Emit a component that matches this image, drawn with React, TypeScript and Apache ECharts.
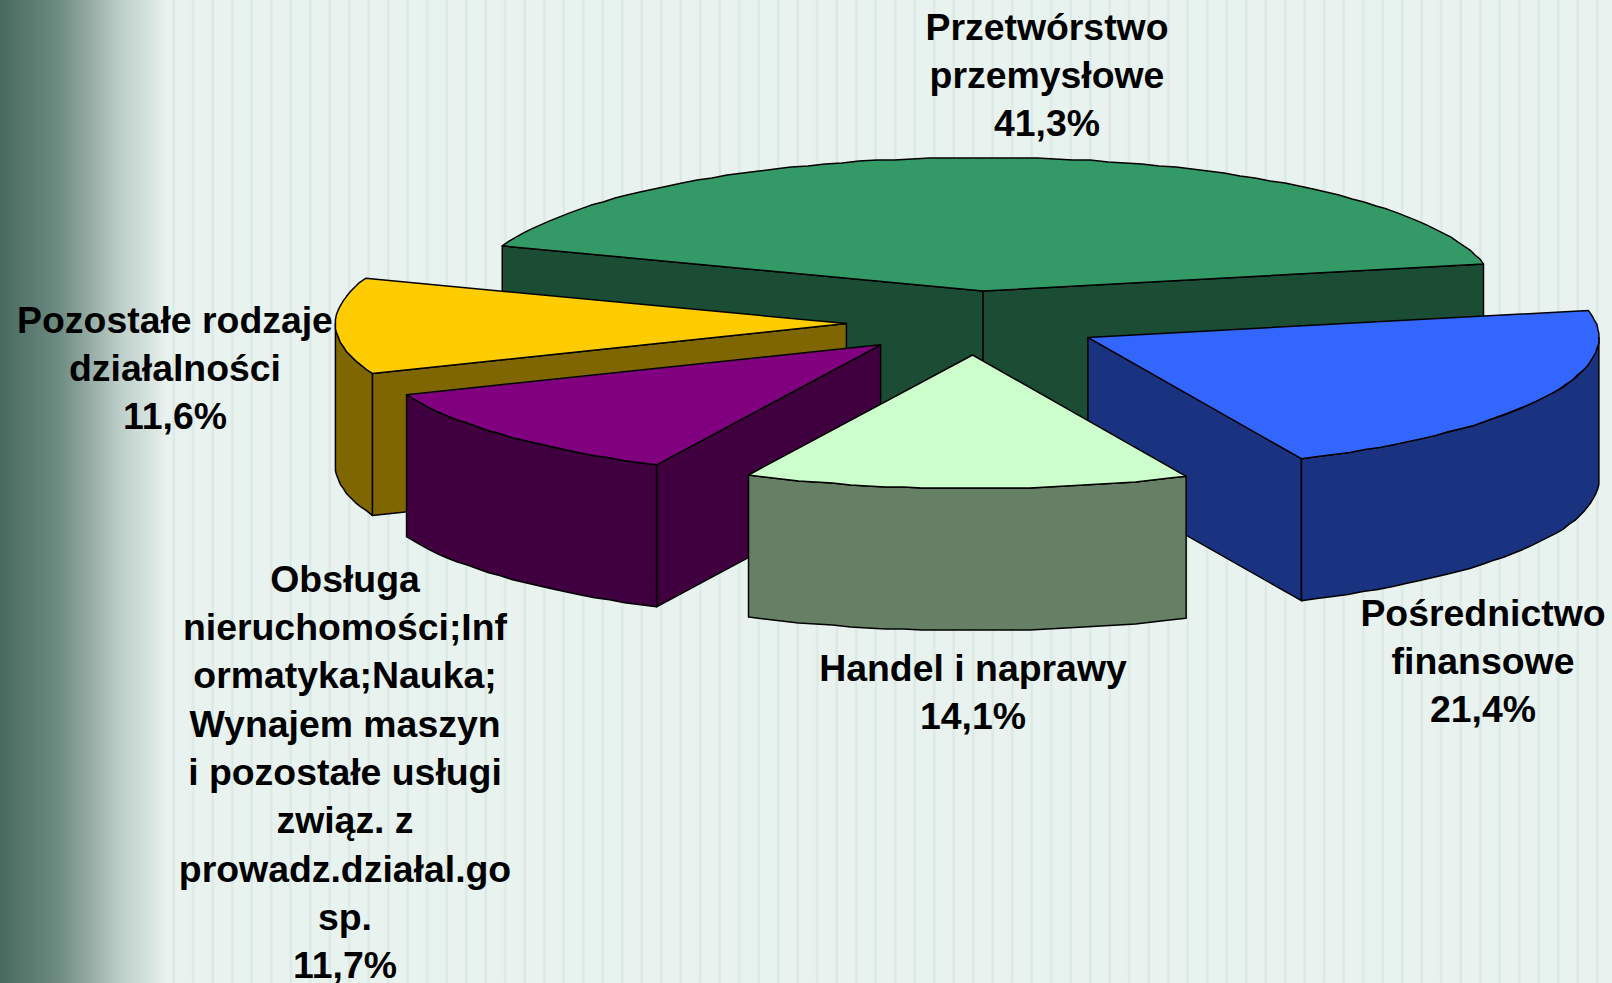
import React, { useEffect, useRef } from "react";
import * as echarts from "echarts";

const categories = [
  "Przetwórstwo\nprzemysłowe",
  "Pośrednictwo\nfinansowe",
  "Handel i naprawy",
  "Obsługa\nnieruchomości;Inf\normatyka;Nauka;\nWynajem maszyn\ni pozostałe usługi\nzwiąz. z\nprowadz.działal.go\nsp.",
  "Pozostałe rodzaje\ndziałalności",
];
const values = [41.3, 21.4, 14.1, 11.7, 11.6];
const valueLabels = ["41,3%", "21,4%", "14,1%", "11,7%", "11,6%"];
const topColors = ["#339966", "#3366FF", "#CCFFCC", "#800080", "#FFCC00"];
const wallColors = ["#1A4D33", "#1A3380", "#668066", "#400040", "#806600"];

// Layout, kept apart from the data
const paintOrder = [0, 4, 1, 3, 2];
const labelCentres = [
  [1047, 75],
  [1483, 661],
  [973, 692],
  [345, 772],
  [175, 368],
];
const W = 1612;
const H = 983;
const CX = 974;
const CY = 323;
const RX = 511;
const RY = 133.5;
const DEPTH = 142;
const EXPLODE_X = 127.6;
const EXPLODE_Y = 32;
const START_ANGLE = 160.2;
const SNAP = 1;

const rad = (d: number) => (d * Math.PI) / 180;
const total = values.reduce((a, b) => a + b, 0);

// Clockwise angular extent of each slice, from the values
const spans = (() => {
  let a = START_ANGLE;
  return values.map((v) => {
    const from = a;
    a -= (v / total) * 360;
    return [from, a];
  });
})();

// The rims of the reference are short straight pieces on a pixel grid
const arcPoints = (
  ox: number,
  oy: number,
  from: number,
  to: number
): number[][] => {
  const n = Math.max(1, Math.round(Math.abs(from - to) / 2));
  const pts: number[][] = [];
  for (let i = 0; i <= n; i++) {
    const t = rad(from + ((to - from) * i) / n);
    const x = RX * Math.cos(t);
    const y = -RY * Math.sin(t);
    const inner = i > 0 && i < n;
    pts.push([
      ox + (inner ? Math.round(x / SNAP) * SNAP : x),
      oy + (inner ? Math.round(y / SNAP) * SNAP : y),
    ]);
  }
  return pts;
};

const renderSlice = (params: any) => {
  const idx = paintOrder[params.dataIndex];
  const [a, b] = spans[idx];
  const mid = rad((a + b) / 2);
  const ox = CX + EXPLODE_X * Math.cos(mid);
  const oy = CY - EXPLODE_Y * Math.sin(mid);
  const line = { stroke: "#000", lineWidth: 1.5, lineJoin: "round" };
  const wall = { ...line, fill: wallColors[idx] };
  const children: any[] = [];
  const poly = (points: number[][], style: any) =>
    children.push({ type: "polygon", shape: { points }, style });
  const radialWall = (angle: number) => {
    const e = arcPoints(ox, oy, angle, angle)[0];
    poly(
      [
        [ox, oy],
        e,
        [e[0], e[1] + DEPTH],
        [ox, oy + DEPTH],
      ],
      wall
    );
  };
  if (Math.cos(rad(a)) < 0) radialWall(a);
  if (Math.cos(rad(b)) > 0) radialWall(b);
  // Outer wall: only the part of the rim on the viewer's side
  const from = Math.min(a, 0);
  const to = Math.max(b, -180);
  if (from > to) {
    const rim = arcPoints(ox, oy, from, to);
    poly(
      [...rim, ...rim.map(([x, y]) => [x, y + DEPTH]).reverse()],
      wall
    );
  }
  poly([[ox, oy], ...arcPoints(ox, oy, a, b)], {
    ...line,
    fill: topColors[idx],
  });
  return { type: "group", children };
};

export default function App() {
  const ref = useRef<HTMLDivElement>(null);
  useEffect(() => {
    document.body.style.margin = "0";
    document.body.style.overflow = "hidden";
    const chart = echarts.init(ref.current!, null, { renderer: "svg" });
    chart.setOption({
      animation: false,
      backgroundColor: "transparent",
      series: [
        {
          type: "custom",
          coordinateSystem: "none",
          silent: true,
          renderItem: renderSlice,
          data: paintOrder.map((i) => values[i]),
        },
      ],
      graphic: categories.map((c, i) => ({
        type: "text",
        x: labelCentres[i][0],
        y: labelCentres[i][1],
        silent: true,
        style: {
          text: `${c}\n${valueLabels[i]}`,
          align: "center",
          verticalAlign: "middle",
          fill: "#000",
          font: 'bold 37.4px "Liberation Sans", Arial, sans-serif',
          lineHeight: 48.3,
        },
      })),
    });
    return () => chart.dispose();
  }, []);
  return (
    <div
      ref={ref}
      style={{
        width: W,
        height: H,
        overflow: "hidden",
        backgroundColor: "#E8F3EF",
        backgroundImage: [
          "linear-gradient(to right, #476B60 0px, #5A7A70 30px, #6E8C83 60px, #98AEA7 92px, #BFD0CB 122px, #D6E3DF 150px, #E0E9E5 158px, rgba(232,243,239,0) 166px)",
          "repeating-linear-gradient(to right, #E8F3EF 0px, #E8F3EF 15.5px, #DCE9E5 17.5px, #DCE9E5 18.5px, #E8F3EF 19.5px)",
        ].join(","),
      }}
    />
  );
}
